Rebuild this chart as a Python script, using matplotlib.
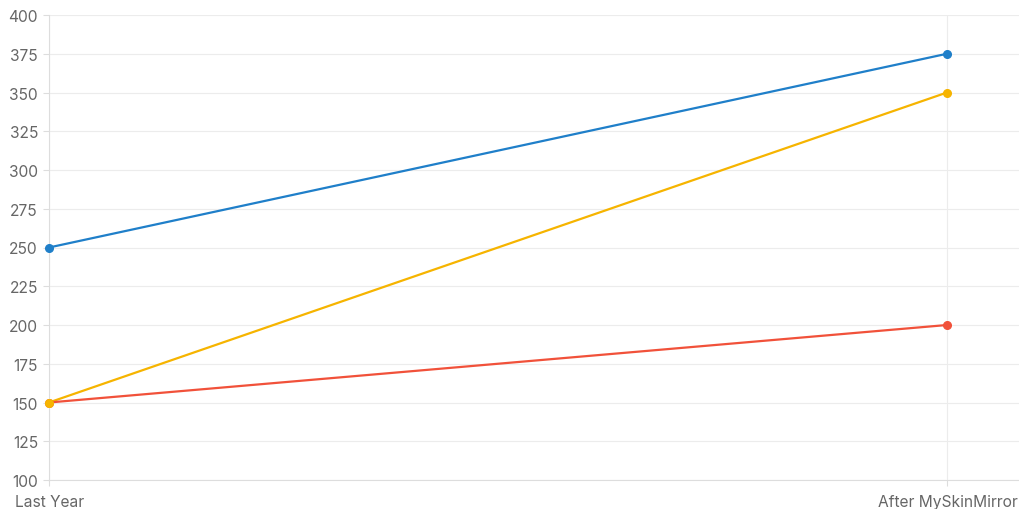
import matplotlib
matplotlib.use("Agg")
import matplotlib.pyplot as plt
from matplotlib.transforms import ScaledTranslation

categories = ["Last Year", "After MySkinMirror"]
blue_values = [250, 375]
yellow_values = [150, 350]
red_values = [150, 200]
y_ticks = [100, 125, 150, 175, 200, 225, 250, 275, 300, 325, 350, 375, 400]

plt.rcParams['font.family'] = ['Inter', 'DejaVu Sans']

fig = plt.figure(figsize=(10.2, 5.1), dpi=100)
ax = fig.add_axes([49/1020, 29/510, 971/1020, 465/510])

x = list(range(len(categories)))
series = [(blue_values, "#1f7fc9"), (yellow_values, "#f6b400"), (red_values, "#f1513a")]
for vals, col in series:
    ax.plot(x, vals, color=col, lw=1.6, zorder=3, clip_on=False)
for vals, col in [series[0], series[2], series[1]]:
    ax.plot(x, vals, ls='none', marker='o', ms=5.5, mec=col, mfc=col, zorder=4, clip_on=False)

ax.set_xlim(0, 971/898)
ax.set_ylim(100, 400)
ax.set_yticks(y_ticks)
ax.set_xticks(x)
ax.set_xticklabels(categories)
ax.grid(True, color="#ececec", lw=0.8)
ax.set_axisbelow(True)
for s in ["top", "right"]:
    ax.spines[s].set_visible(False)
for s in ["left", "bottom"]:
    ax.spines[s].set_color("#dddddd")
    ax.spines[s].set_linewidth(0.8)
ax.tick_params(axis='both', colors="#dddddd", labelcolor="#666666", labelsize=11.2, length=4, width=0.8)
ax.tick_params(axis='x', pad=6)
ax.tick_params(axis='y', pad=4)
labels = ax.get_xticklabels()
fig.canvas.draw()
labels[0].set_ha('left')
labels[0].set_transform(labels[0].get_transform() + ScaledTranslation(-34/100, 0, fig.dpi_scale_trans))
labels[-1].set_ha('right')
labels[-1].set_transform(labels[-1].get_transform() + ScaledTranslation(71/100, 0, fig.dpi_scale_trans))

fig.savefig("out.png", dpi=100, facecolor="white")
